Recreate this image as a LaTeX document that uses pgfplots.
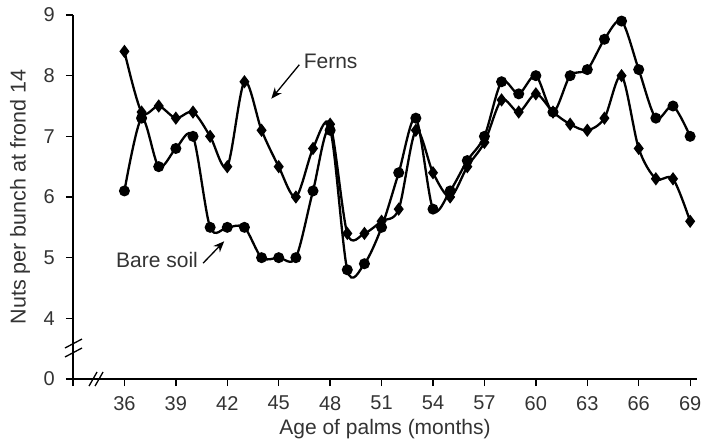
\documentclass[border=0pt]{standalone}
\usepackage{fontspec}
\setmainfont{Liberation Sans}
\usepackage{pgfplots}
\pgfplotsset{compat=1.18}
\usetikzlibrary{arrows.meta}
\definecolor{txt}{HTML}{333333}

% months 36..69
\pgfplotstableread{
m  v
36 8.4
37 7.4
38 7.5
39 7.3
40 7.4
41 7.0
42 6.5
43 7.9
44 7.1
45 6.5
46 6.0
47 6.8
48 7.2
49 5.4
50 5.4
51 5.6
52 5.8
53 7.1
54 6.4
55 6.0
56 6.5
57 6.9
58 7.6
59 7.4
60 7.7
61 7.4
62 7.2
63 7.1
64 7.3
65 8.0
66 6.8
67 6.3
68 6.3
69 5.6
}\ferns

\pgfplotstableread{
m  v
36 6.1
37 7.3
38 6.5
39 6.8
40 7.0
41 5.5
42 5.5
43 5.5
44 5.0
45 5.0
46 5.0
47 6.1
48 7.1
49 4.8
50 4.9
51 5.5
52 6.4
53 7.3
54 5.8
55 6.1
56 6.6
57 7.0
58 7.9
59 7.7
60 8.0
61 7.4
62 8.0
63 8.1
64 8.6
65 8.9
66 8.1
67 7.3
68 7.5
69 7.0
}\baresoil

\begin{document}
\fontsize{21bp}{25bp}\selectfont
\begin{tikzpicture}
\useasboundingbox (-73bp,-63bp) rectangle (636bp,379bp);
\begin{axis}[
  scale only axis, width=624bp, height=364bp,
  xmin=33, xmax=69.4, ymin=3, ymax=9,
  clip=false,
  axis lines=left, axis line style={-, line width=1.3bp, black},
  tick align=outside, major tick length=7bp,
  tick style={line width=1.3bp, black},
  xtick={33,36,...,69},
  xticklabels={,36,39,42,45,48,51,54,57,60,63,66,69},
  ytick={3,4,...,9},
  yticklabels={0,4,5,6,7,8,9},
  ticklabel style={font=\fontsize{20bp}{24bp}\selectfont, text=txt},
  xticklabel style={yshift=-3bp},
  yticklabel style={xshift=-4bp},
]
\addplot[black, line width=2.3bp, smooth, tension=0.5,
  mark=diamond*, mark size=4.8bp] table[x=m, y=v] {\ferns};
\addplot[black, line width=2.3bp, smooth, tension=0.5,
  mark=*, mark size=4.3bp] table[x=m, y=v] {\baresoil};

% labels with arrows
\node[anchor=west, text=txt, inner sep=0] at (axis cs:46.45,8.23) {Ferns};
\draw[line width=1.3bp, -{Stealth[length=11bp,width=9bp]}]
  (axis cs:46.2,8.18) -- (axis cs:44.57,7.62);
\node[anchor=east, text=txt, inner sep=0] at (axis cs:40.3,4.96) {Bare soil};
\draw[line width=1.3bp, -{Stealth[length=11bp,width=9bp]}]
  (axis cs:40.59,4.91) -- (axis cs:41.82,5.27);

% axis breaks
\draw[line width=1.3bp] ([xshift=-8bp,yshift=-4.5bp]axis cs:33,3.585) -- ([xshift=9bp,yshift=4.5bp]axis cs:33,3.585);
\draw[line width=1.3bp] ([xshift=-8bp,yshift=-4.5bp]axis cs:33,3.437) -- ([xshift=9bp,yshift=4.5bp]axis cs:33,3.437);
\draw[line width=1.3bp] ([xshift=-4bp,yshift=-7bp]axis cs:34.17,3) -- ([xshift=4bp,yshift=7bp]axis cs:34.17,3);
\draw[line width=1.3bp] ([xshift=-4bp,yshift=-7bp]axis cs:34.52,3) -- ([xshift=4bp,yshift=7bp]axis cs:34.52,3);
\end{axis}
\node[rotate=90, text=txt, font=\fontsize{21.5bp}{25bp}\selectfont] at (-53bp,182bp) {Nuts per bunch at frond 14};
\node[text=txt, font=\fontsize{21bp}{25bp}\selectfont, inner sep=1bp] at (312bp,-50bp) {Age of palms (months)};
\end{tikzpicture}
\end{document}
